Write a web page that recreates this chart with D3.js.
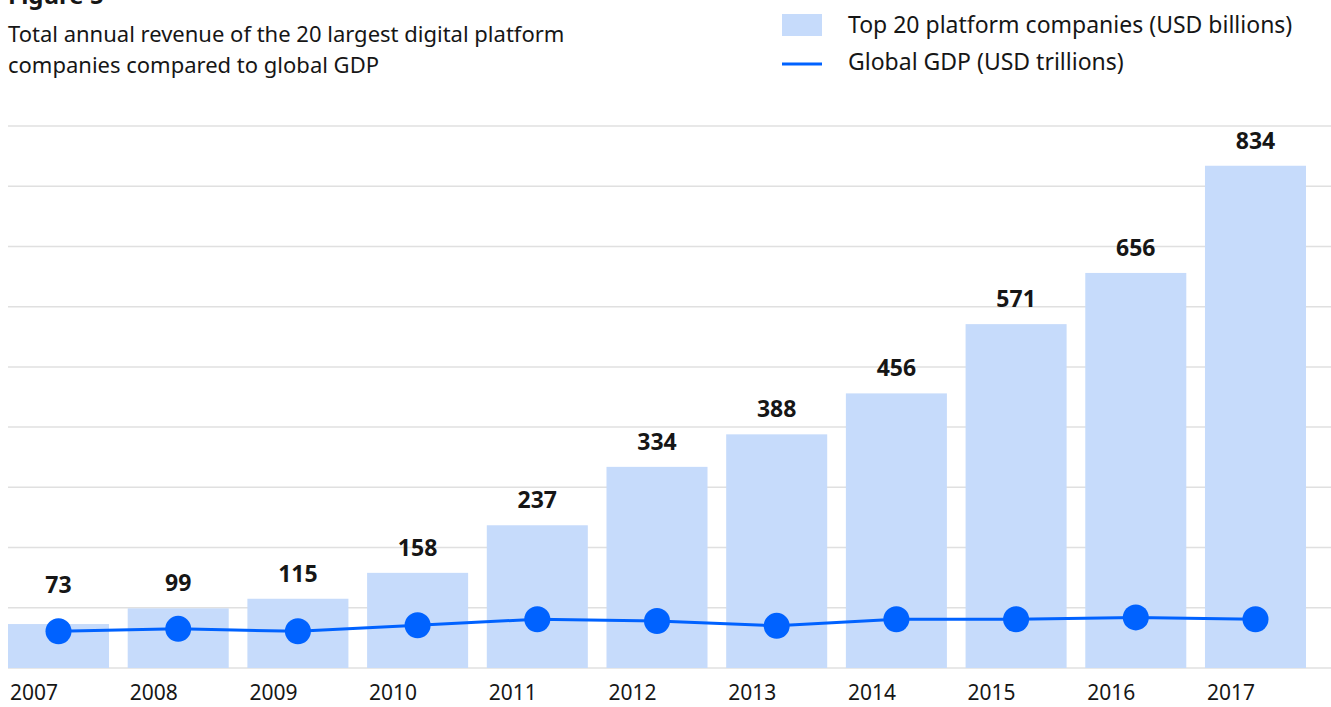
<!DOCTYPE html>
<html>
<head>
<meta charset="utf-8">
<script src="https://cdn.jsdelivr.net/npm/d3@7"></script>
<style>
  body { margin: 0; background: #fff; }
  svg { display: block; font-family: "Noto Sans", sans-serif; }
</style>
</head>
<body>
<div id="chart"></div>
<script>
// data
var years = ["2007", "2008", "2009", "2010", "2011", "2012", "2013", "2014", "2015", "2016", "2017"];
var revenue = [73, 99, 115, 158, 237, 334, 388, 456, 571, 656, 834];
var gdp = [61, 65, 61, 71, 81, 78, 70, 81, 81, 84, 81];
var gridTicks = [0, 100, 200, 300, 400, 500, 600, 700, 800, 900];
var legendLabels = ["Top 20 platform companies (USD billions)", "Global GDP (USD trillions)"];
var titleLines = ["Total annual revenue of the 20 largest digital platform", "companies compared to global GDP"];

var width = 1331, height = 707;
var barColor = "#c6dbfb", lineColor = "#0062ff", ink = "#161616";

var svg = d3.select("#chart").append("svg")
    .attr("width", width)
    .attr("height", height);

var x = d3.scaleBand()
    .domain(years)
    .range([8, 1306])
    .paddingInner(0.156)
    .paddingOuter(0);

var y = d3.scaleLinear()
    .domain([0, 900])
    .range([668, 126]);

// heading (cut at the top edge, like the source)
svg.append("text")
    .attr("x", 8).attr("y", 4)
    .attr("font-size", 24).attr("font-weight", "bold")
    .attr("fill", ink)
    .text("Figure 5");

svg.selectAll(".title")
    .data(titleLines)
    .enter().append("text")
    .attr("class", "title")
    .attr("x", 8)
    .attr("y", function(d, i) { return 42 + i * 31 })
    .attr("font-size", 22)
    .attr("fill", ink)
    .text(function(d) { return d });

// legend
var legend = svg.append("g").attr("transform", "translate(782,0)");
legend.append("rect")
    .attr("x", 0).attr("y", 14)
    .attr("width", 40).attr("height", 22)
    .attr("fill", barColor);
legend.append("line")
    .attr("x1", 0).attr("x2", 40)
    .attr("y1", 64).attr("y2", 64)
    .attr("stroke", lineColor).attr("stroke-width", 3);
legend.selectAll(".legtext")
    .data(legendLabels)
    .enter().append("text")
    .attr("class", "legtext")
    .attr("x", 66)
    .attr("y", function(d, i) { return 33 + i * 37 })
    .attr("font-size", 23)
    .attr("fill", ink)
    .text(function(d) { return d });

// gridlines
svg.selectAll(".grid")
    .data(gridTicks)
    .enter().append("line")
    .attr("class", "grid")
    .attr("x1", 8).attr("x2", width)
    .attr("y1", function(d) { return y(d) })
    .attr("y2", function(d) { return y(d) })
    .attr("stroke", "#e0e0e0")
    .attr("stroke-width", 1.5);

// bars
svg.selectAll(".bar")
    .data(revenue)
    .enter().append("rect")
    .attr("class", "bar")
    .attr("x", function(d, i) { return x(years[i]) })
    .attr("y", function(d) { return y(d) })
    .attr("width", x.bandwidth())
    .attr("height", function(d) { return y(0) - y(d) })
    .attr("fill", barColor);

// gdp line
var line = d3.line()
    .x(function(d, i) { return x(years[i]) + x.bandwidth() / 2 })
    .y(function(d) { return y(d) });

svg.append("path")
    .datum(gdp)
    .attr("d", line)
    .attr("fill", "none")
    .attr("stroke", lineColor)
    .attr("stroke-width", 3);

svg.selectAll(".dot")
    .data(gdp)
    .enter().append("circle")
    .attr("class", "dot")
    .attr("cx", function(d, i) { return x(years[i]) + x.bandwidth() / 2 })
    .attr("cy", function(d) { return y(d) })
    .attr("r", 13)
    .attr("fill", lineColor);

// value labels, kept clear of the dots
svg.selectAll(".val")
    .data(revenue)
    .enter().append("text")
    .attr("class", "val")
    .attr("x", function(d, i) { return x(years[i]) + x.bandwidth() / 2 })
    .attr("y", function(d, i) { return Math.min(y(d), y(gdp[i]) - 21) - 17 })
    .attr("text-anchor", "middle")
    .attr("font-size", 23).attr("font-weight", "bold")
    .attr("fill", ink)
    .text(function(d) { return d });

// year labels
svg.selectAll(".year")
    .data(years)
    .enter().append("text")
    .attr("class", "year")
    .attr("x", function(d) { return x(d) + 2 })
    .attr("y", 700)
    .attr("font-size", 21)
    .attr("fill", ink)
    .text(function(d) { return d });
</script>
</body>
</html>
